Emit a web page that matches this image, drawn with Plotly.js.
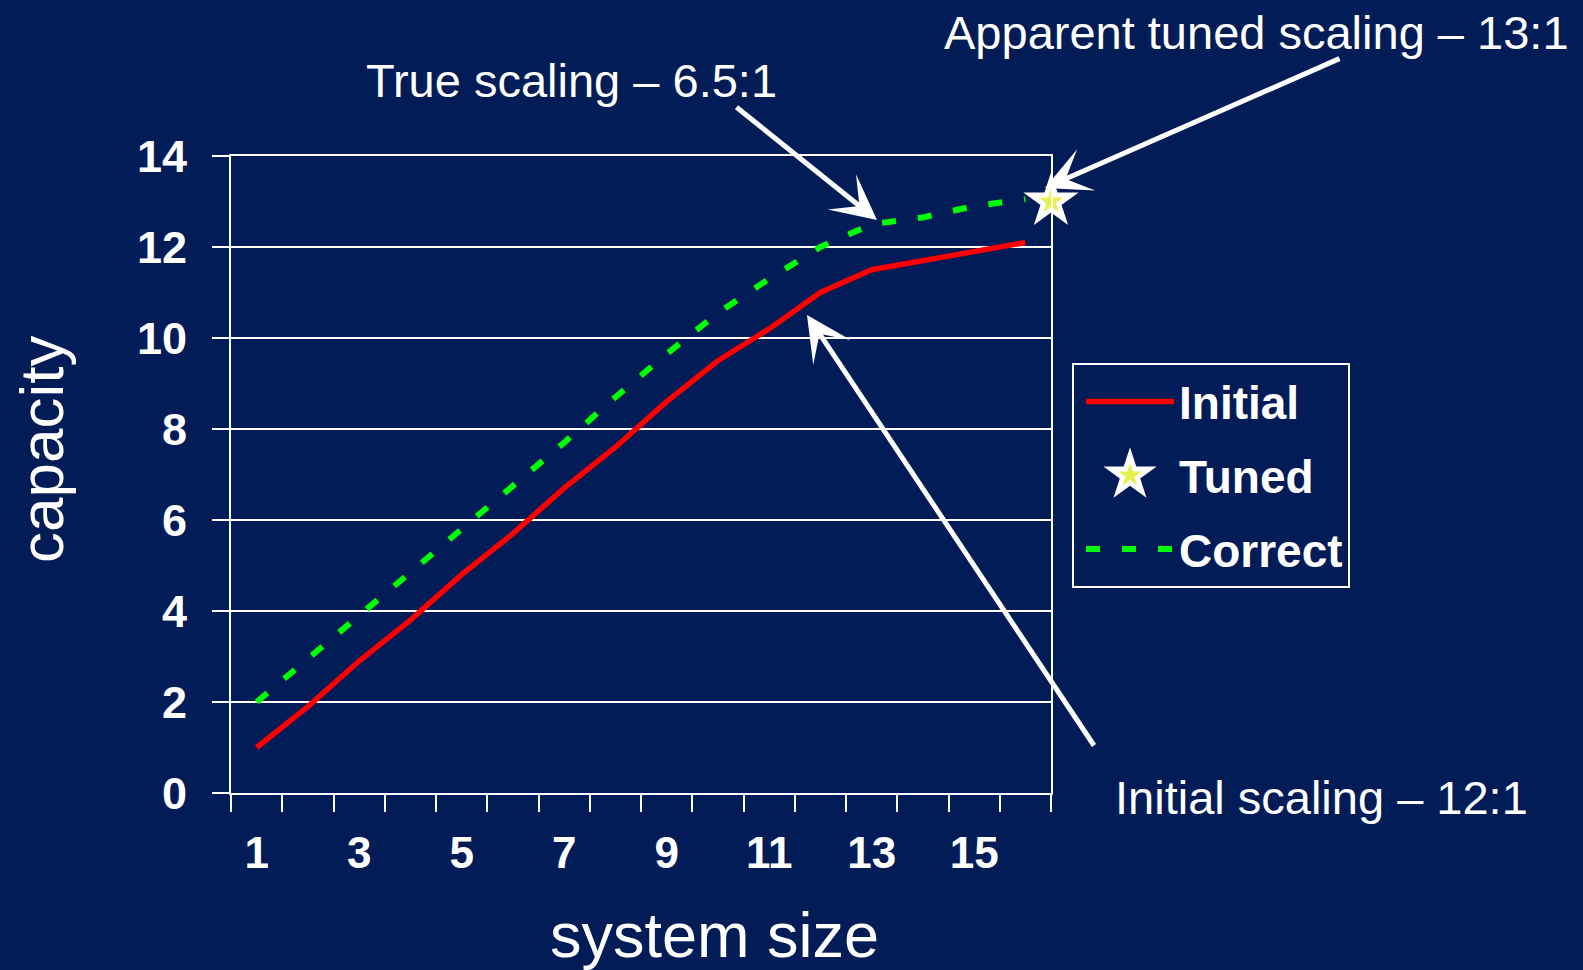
<!DOCTYPE html>
<html>
<head>
<meta charset="utf-8">
<script src="https://cdn.plot.ly/plotly-3.0.1.min.js"></script>
<style>
html,body{margin:0;padding:0;background:#011C56;}
#chart{width:1583px;height:970px;}
#chart path.point, #chart path.scatterpts { stroke-linejoin: miter !important; stroke-miterlimit: 10 !important; }
</style>
</head>
<body>
<div id="chart"></div>
<script>
// ---- data ----
const systemSize = [1,2,3,4,5,6,7,8,9,10,11,12,13,14,15,16];
const initialCapacity = [1.0,1.9,2.9,3.8,4.8,5.7,6.7,7.6,8.6,9.5,10.2,11.0,11.5,11.7,11.9,12.1];
const correctCapacity = [2.0,2.95,3.9,4.85,5.8,6.75,7.7,8.7,9.65,10.55,11.3,12.0,12.5,12.65,12.9,13.05];
const tunedSize = [16.5];
const tunedCapacity = [13.0];
const xTickVals = [1,3,5,7,9,11,13,15];
const xTickText = ['1','3','5','7','9','11','13','15'];
const yTickVals = [0,2,4,6,8,10,12,14];
const seriesNames = ['Initial','Tuned','Correct'];
const xTitle = 'system size';
const yTitle = 'capacity';
const notes = ['Apparent tuned scaling \u2013 13:1','True scaling \u2013 6.5:1','Initial scaling \u2013 12:1'];

// ---- layout helpers ----
const W = 1583, H = 970;
const M = {l:231, r:532, t:156, b:177};
const PW = W - M.l - M.r, PH = H - M.t - M.b;
const px = X => (X - M.l) / PW;
const py = Y => (H - M.b - Y) / PH;
const FONT = 'Liberation Sans, Arial, Helvetica, sans-serif';
const BG = '#011C56';

const traces = [
  {x: systemSize, y: initialCapacity, name: seriesNames[0], mode: 'lines',
   line: {color: '#FF0000', width: 5.5}, legendgroup: 'g1', legendrank: 1},
  {x: systemSize, y: correctCapacity, name: seriesNames[2], mode: 'lines',
   line: {color: '#00FF00', width: 6, dash: '14px,22px'}, legendgroup: 'g3', legendrank: 3},
  {x: tunedSize, y: tunedCapacity, name: seriesNames[1], mode: 'markers', cliponaxis: false,
   marker: {symbol: 'star', size: 30, color: '#E6F24C', line: {color: '#FFFFFF', width: 5}},
   legendgroup: 'g2', legendrank: 2}
];

const arrowStyle = {showarrow: true, arrowhead: 3, arrowsize: 1.5, arrowwidth: 5,
  arrowcolor: '#FFFFFF', text: '', xref: 'paper', yref: 'paper', standoff: 0};
const noteFont = {family: FONT, size: 47, color: '#FFFFFF'};

const layout = {
  width: W, height: H,
  paper_bgcolor: BG, plot_bgcolor: BG,
  margin: M,
  showlegend: true,
  legend: {
    x: px(1072), y: py(363), xanchor: 'left', yanchor: 'top',
    bgcolor: 'rgba(0,0,0,0)', bordercolor: '#FFFFFF', borderwidth: 2,
    font: {family: FONT, size: 46, color: '#FFFFFF', weight: 'bold'},
    itemwidth: 88, indentation: 7, tracegroupgap: 11, traceorder: 'grouped'
  },
  xaxis: {
    range: [0.5, 16.5], tickmode: 'array', tickvals: xTickVals, ticktext: xTickText,
    ticks: '', showgrid: false, zeroline: false, ticklabelstandoff: 20,
    showline: true, linecolor: '#FFFFFF', linewidth: 2, mirror: true,
    tickfont: {family: FONT, size: 44, color: '#FFFFFF', weight: 'bold'},
    minor: {tickmode: 'linear', tick0: 0.5, dtick: 1, ticks: 'outside', ticklen: 17,
            tickwidth: 2, tickcolor: '#FFFFFF', showgrid: false}
  },
  yaxis: {
    range: [0, 14], tickmode: 'array', tickvals: yTickVals,
    ticks: 'outside', ticklen: 17, tickwidth: 2, tickcolor: '#FFFFFF', ticklabelstandoff: 16,
    showgrid: true, gridcolor: '#FFFFFF', gridwidth: 2, zeroline: false,
    showline: true, linecolor: '#FFFFFF', linewidth: 2, mirror: true,
    tickfont: {family: FONT, size: 45, color: '#FFFFFF', weight: 'bold'}
  },
  annotations: [
    {text: notes[0], xref: 'paper', yref: 'paper', x: px(942), y: py(33),
     xanchor: 'left', yanchor: 'middle', showarrow: false, font: noteFont},
    {text: notes[1], xref: 'paper', yref: 'paper', x: px(364), y: py(80),
     xanchor: 'left', yanchor: 'middle', showarrow: false, font: noteFont},
    {text: notes[2], xref: 'paper', yref: 'paper', x: px(1113), y: py(797),
     xanchor: 'left', yanchor: 'middle', showarrow: false, font: noteFont},
    Object.assign({x: px(1045), y: py(188), ax: 296, ay: -130}, arrowStyle),
    Object.assign({x: px(877), y: py(220), ax: -142, ay: -114}, arrowStyle),
    Object.assign({x: px(807), y: py(315), ax: 288, ay: 432}, arrowStyle),
    {text: xTitle, xref: 'paper', yref: 'paper', x: px(714), y: py(935),
     xanchor: 'center', yanchor: 'middle', showarrow: false,
     font: {family: FONT, size: 63, color: '#FFFFFF'}},
    {text: yTitle, xref: 'paper', yref: 'paper', x: px(41), y: py(450),
     xanchor: 'center', yanchor: 'middle', showarrow: false, textangle: -90,
     font: {family: FONT, size: 62, color: '#FFFFFF'}}
  ]
};

Plotly.newPlot('chart', traces, layout, {displayModeBar: false, staticPlot: true}).then(gd => {
  // enlarge the legend star so it matches the star drawn in the plot
  gd.querySelectorAll('.legend path.scatterpts').forEach(p => {
    const t = p.getAttribute('transform') || '';
    p.setAttribute('transform', t + ' scale(1.8)');
    p.style.strokeWidth = '2.7px';
  });
});
</script>
</body>
</html>
